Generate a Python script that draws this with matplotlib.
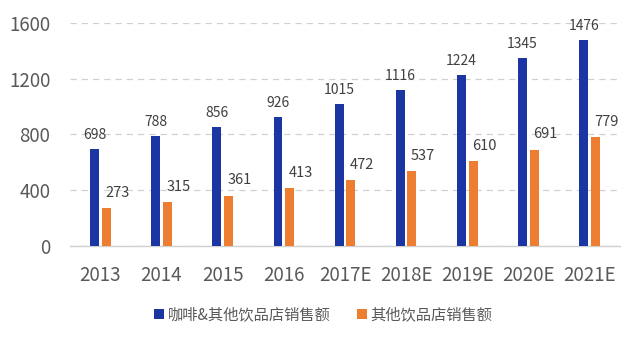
import matplotlib
matplotlib.use("Agg")
import matplotlib.pyplot as plt
import numpy as np

plt.rcParams['font.family'] = ['Noto Sans CJK SC', 'DejaVu Sans']

categories = ["2013", "2014", "2015", "2016", "2017E", "2018E", "2019E", "2020E", "2021E"]
coffee_total = [698, 788, 856, 926, 1015, 1116, 1224, 1345, 1476]
other_drinks = [273, 315, 361, 413, 472, 537, 610, 691, 779]
series_names = ["咖啡&其他饮品店销售额", "其他饮品店销售额"]
yticks = [0, 400, 800, 1200, 1600]

blue = "#1B35A3"
orange = "#ED7D31"
grey = "#595959"

fig = plt.figure(figsize=(6.4, 3.42), dpi=100)
ax = fig.add_axes([0.109, 0.2807, 0.86, 0.6529])

x = np.arange(len(categories))
w = 0.145
off = 0.095
b1 = ax.bar(x - off, coffee_total, width=w, color=blue, label=series_names[0], zorder=3)
b2 = ax.bar(x + off, other_drinks, width=w, color=orange, label=series_names[1], zorder=3)

for xi, v in zip(x, coffee_total):
    ax.annotate(str(v), (xi - off, v), xytext=(0, 5), textcoords="offset points",
                ha="center", va="bottom", fontsize=10, color="#404040")
for xi, v in zip(x, other_drinks):
    ax.annotate(str(v), (xi + off, v), xytext=(8, 6), textcoords="offset points",
                ha="center", va="bottom", fontsize=10.5, color="#404040")

ax.set_xlim(-0.5, len(categories) - 0.5)
ax.set_ylim(0, 1600)
ax.set_yticks(yticks)
ax.set_xticks(x)
ax.set_xticklabels(categories)
ax.tick_params(axis="both", length=0, labelsize=13.5, colors=grey)
ax.tick_params(axis="x", pad=14)
ax.tick_params(axis="y", pad=14)
ax.grid(axis="y", color="#D0D0D0", linestyle=(0, (5, 4)), linewidth=0.9, zorder=0)
for s in ["top", "right", "left"]:
    ax.spines[s].set_visible(False)
ax.spines["bottom"].set_color("#D0D0D0")
ax.spines["bottom"].set_linewidth(1.0)

leg = fig.legend(handles=[b1, b2], loc="center", bbox_to_anchor=(0.505, 0.079), ncol=2,
                 frameon=False, fontsize=11, handlelength=0.65, handleheight=0.65,
                 handletextpad=0.25, columnspacing=1.7)
for t in leg.get_texts():
    t.set_color(grey)

fig.savefig("out.png", dpi=100)
